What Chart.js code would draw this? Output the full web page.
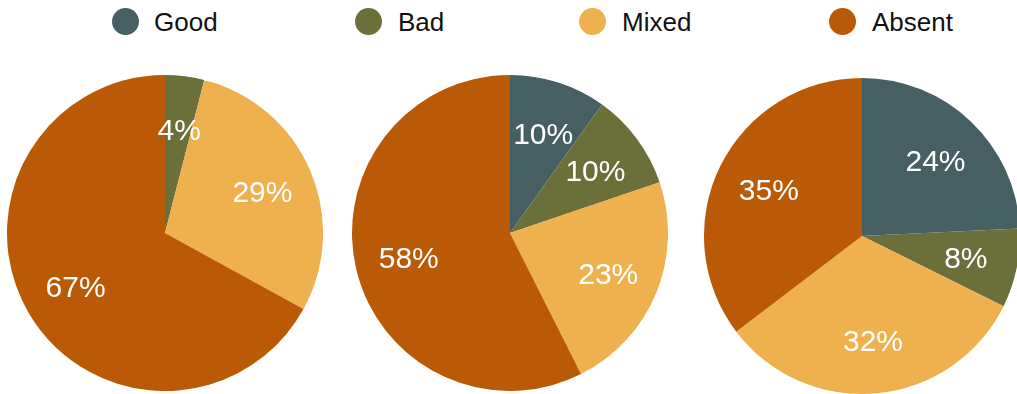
<!DOCTYPE html>
<html>
<head>
<meta charset="utf-8">
<script src="https://cdn.jsdelivr.net/npm/chart.js@4/dist/chart.umd.min.js"></script>
<style>
  html, body { margin: 0; padding: 0; background: #fff; width: 1017px; height: 394px; overflow: hidden; }
  body { position: relative; font-family: "Liberation Sans", Arial, Helvetica, sans-serif; }
  .pie { position: absolute; width: 316px; height: 316px; }
  .leg { position: absolute; top: 0; height: 43px; }
  .dot { position: absolute; top: 8px; width: 27px; height: 27px; border-radius: 50%; }
  .lbl { position: absolute; top: 1px; line-height: 43px; font-size: 26px; color: #111; white-space: nowrap; }
</style>
</head>
<body>
<div id="legend"></div>
<canvas id="pie1" class="pie" width="316" height="316" style="left:7px;top:75px"></canvas>
<canvas id="pie2" class="pie" width="316" height="316" style="left:352px;top:75px"></canvas>
<canvas id="pie3" class="pie" width="316" height="316" style="left:704px;top:78px"></canvas>
<script>
const categories = ["Good", "Bad", "Mixed", "Absent"];
const colors = ["#455f63", "#6b6f3a", "#efb04e", "#bb5a06"];
const pie1Values = [0, 4, 29, 67];
const pie2Values = [10, 10, 23, 58];
const pie3Values = [24, 8, 32, 35];

// legend (HTML, real text)
const legendDotX = [112, 355, 579, 829];
const legendTextX = [154, 398, 622, 872];
const legendEl = document.getElementById('legend');
categories.forEach((c, i) => {
  const d = document.createElement('div');
  d.className = 'dot';
  d.style.left = legendDotX[i] + 'px';
  d.style.background = colors[i];
  legendEl.appendChild(d);
  const t = document.createElement('div');
  t.className = 'lbl';
  t.style.left = legendTextX[i] + 'px';
  t.textContent = c;
  legendEl.appendChild(t);
});

const labelPlugin = {
  id: 'sliceLabels',
  afterDatasetsDraw(chart) {
    const ctx = chart.ctx;
    const meta = chart.getDatasetMeta(0);
    const data = chart.data.datasets[0].data;
    ctx.save();
    ctx.fillStyle = '#ffffff';
    ctx.font = '30px "Liberation Sans", Arial, sans-serif';
    ctx.textAlign = 'center';
    ctx.textBaseline = 'middle';
    meta.data.forEach((arc, i) => {
      if (!data[i]) return;
      const p = arc.getProps(['x', 'y', 'startAngle', 'endAngle', 'outerRadius'], true);
      const mid = (p.startAngle + p.endAngle) / 2;
      const r = p.outerRadius * 0.665;
      ctx.fillText(data[i] + '%', p.x + Math.cos(mid) * r + 1, p.y + Math.sin(mid) * r + 2.5);
    });
    ctx.restore();
  }
};

function makePie(id, values) {
  return new Chart(document.getElementById(id), {
    type: 'pie',
    data: {
      labels: categories,
      datasets: [{ data: values, backgroundColor: colors, borderWidth: 0 }]
    },
    options: {
      responsive: false,
      animation: false,
      layout: { padding: 0 },
      plugins: { legend: { display: false }, tooltip: { enabled: false } }
    },
    plugins: [labelPlugin]
  });
}
makePie('pie1', pie1Values);
makePie('pie2', pie2Values);
makePie('pie3', pie3Values);
</script>
</body>
</html>
